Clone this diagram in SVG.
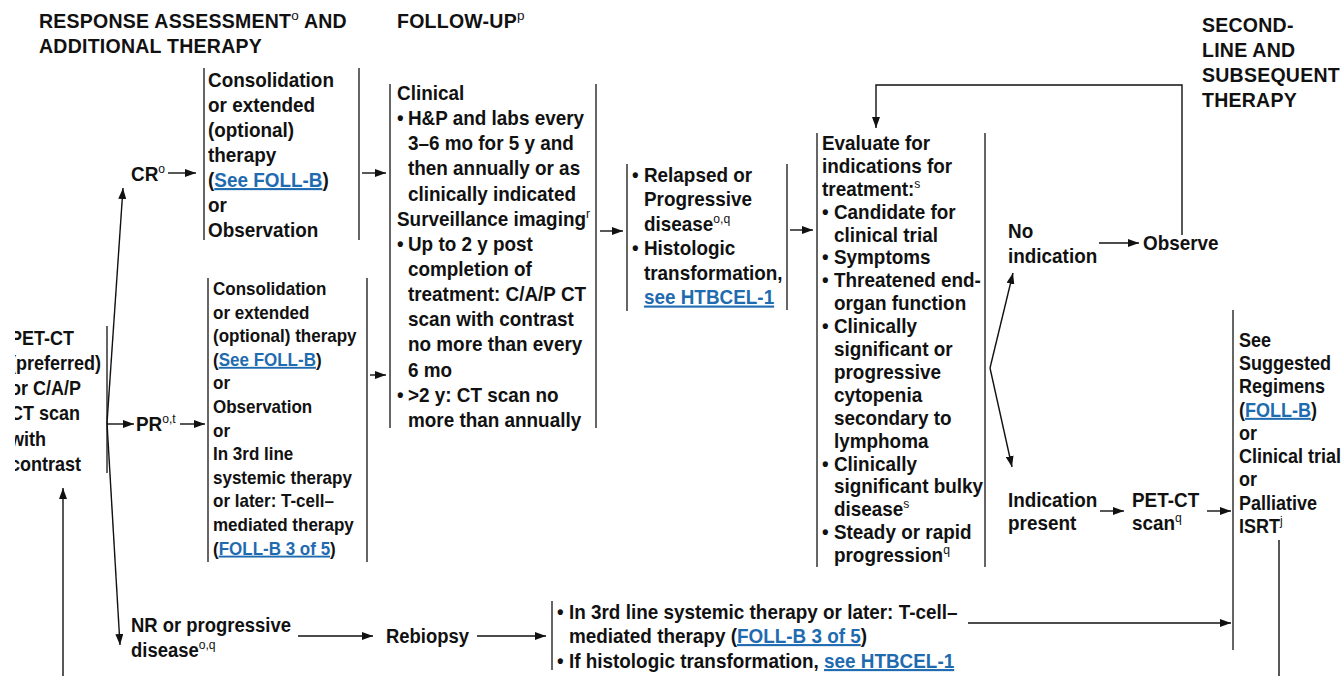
<svg xmlns="http://www.w3.org/2000/svg" width="1341" height="676" viewBox="0 0 1341 676">
<defs>
<style>
text{font-family:"Liberation Sans",Arial,sans-serif;font-weight:bold;fill:#111;}
.h{font-size:19.5px;letter-spacing:0.25px;}
.t{font-size:21px;}
.s{font-size:18.9px;}
.m{font-size:20px;}
.n{font-size:20.5px;}
.sup{font-size:13.5px;font-weight:normal;}
.lk{fill:#1f6bb0;text-decoration:underline;}
.br{stroke:#333;stroke-width:1.5;fill:none;}
.c{stroke:#111;stroke-width:1.4;fill:none;}
.ca{stroke:#111;stroke-width:1.4;fill:none;marker-end:url(#ah);}
</style>
<marker id="ah" markerUnits="userSpaceOnUse" markerWidth="11" markerHeight="8" refX="11" refY="4" orient="auto">
<path d="M0,0 L11,4 L0,8 z" fill="#111"/>
</marker>
<clipPath id="leftclip"><rect x="15" y="300" width="100" height="200"/></clipPath>
</defs>
<rect width="1341" height="676" fill="#fff"/>

<g id="headings">
<text class="h" x="39" y="28">RESPONSE ASSESSMENT<tspan class="sup" dy="-8">o</tspan><tspan dy="8"> AND</tspan></text>
<text class="h" x="39" y="53">ADDITIONAL THERAPY</text>
<text class="h" x="397" y="28">FOLLOW-UP<tspan class="sup" dy="-8">p</tspan></text>
<text class="h" x="1202" y="32">SECOND-</text>
<text class="h" x="1202" y="57">LINE AND</text>
<text class="h" x="1202" y="82">SUBSEQUENT</text>
<text class="h" x="1202" y="107">THERAPY</text>
</g>

<g id="node-petct">
<g clip-path="url(#leftclip)">
<g transform="translate(10,0) scale(0.9,1)">
<text class="m" x="0" y="345">PET-CT</text>
<text class="m" x="0" y="370">(preferred)</text>
<text class="m" x="0" y="395">or C/A/P</text>
<text class="m" x="0" y="420">CT scan</text>
<text class="m" x="0" y="446">with</text>
<text class="m" x="0" y="471">contrast</text>
</g>
</g>
<line class="br" x1="107" y1="326" x2="107" y2="473"/>
</g>

<g id="node-cr">
<g transform="translate(131,0) scale(0.9,1)"><text class="t" x="0" y="181">CR<tspan class="sup" dy="-8">o</tspan></text></g>
</g>
<g id="node-pr">
<g transform="translate(136,0) scale(0.9,1)"><text class="t" x="0" y="431">PR<tspan class="sup" dy="-8">o,t</tspan></text></g>
</g>
<g id="node-nr">
<g transform="translate(131,0) scale(0.9,1)">
<text class="n" x="0" y="632">NR or progressive</text>
<text class="n" x="0" y="657">disease<tspan class="sup" dy="-8">o,q</tspan></text>
</g>
</g>

<g id="node-cr-therapy">
<line class="br" x1="204" y1="68" x2="204" y2="240"/>
<line class="br" x1="359" y1="68" x2="359" y2="240"/>
<g transform="translate(208,0) scale(0.9,1)">
<text class="t" x="0" y="87">Consolidation</text>
<text class="t" x="0" y="112">or extended</text>
<text class="t" x="0" y="137">(optional)</text>
<text class="t" x="0" y="162">therapy</text>
<text class="t" x="0" y="187">(<tspan class="lk">See FOLL-B</tspan>)</text>
<text class="t" x="0" y="212">or</text>
<text class="t" x="0" y="237">Observation</text>
</g>
</g>

<g id="node-pr-therapy">
<line class="br" x1="208" y1="278" x2="208" y2="562"/>
<line class="br" x1="367" y1="278" x2="367" y2="562"/>
<g transform="translate(213,0) scale(0.9,1)">
<text class="s" x="0" y="295">Consolidation</text>
<text class="s" x="0" y="318.6">or extended</text>
<text class="s" x="0" y="342.2">(optional) therapy</text>
<text class="s" x="0" y="365.8">(<tspan class="lk">See FOLL-B</tspan>)</text>
<text class="s" x="0" y="389.4">or</text>
<text class="s" x="0" y="413">Observation</text>
<text class="s" x="0" y="436.6">or</text>
<text class="s" x="0" y="460.2">In 3rd line</text>
<text class="s" x="0" y="483.8">systemic therapy</text>
<text class="s" x="0" y="507.4">or later: T-cell–</text>
<text class="s" x="0" y="531">mediated therapy</text>
<text class="s" x="0" y="554.6">(<tspan class="lk">FOLL-B 3 of 5</tspan>)</text>
</g>
</g>

<g id="node-followup">
<line class="br" x1="390" y1="84" x2="390" y2="428"/>
<line class="br" x1="596" y1="84" x2="596" y2="428"/>
<g transform="translate(397,0) scale(0.9,1)">
<text class="t" x="0" y="100">Clinical</text>
<text class="t" x="0" y="125.2">•</text>
<text class="t" x="12.2" y="125.2">H&amp;P and labs every</text>
<text class="t" x="12.2" y="150.3">3–6 mo for 5 y and</text>
<text class="t" x="12.2" y="175.5">then annually or as</text>
<text class="t" x="12.2" y="200.6">clinically indicated</text>
<text class="t" x="0" y="225.8">Surveillance imaging<tspan class="sup" dy="-8">r</tspan></text>
<text class="t" x="0" y="250.9">•</text>
<text class="t" x="12.2" y="250.9">Up to 2 y post</text>
<text class="t" x="12.2" y="276.1">completion of</text>
<text class="t" x="12.2" y="301.2">treatment: C/A/P CT</text>
<text class="t" x="12.2" y="326.4">scan with contrast</text>
<text class="t" x="12.2" y="351.5">no more than every</text>
<text class="t" x="12.2" y="376.7">6 mo</text>
<text class="t" x="0" y="401.8">•</text>
<text class="t" x="12.2" y="401.8">&gt;2 y: CT scan no</text>
<text class="t" x="12.2" y="427">more than annually</text>
</g>
</g>

<g id="node-relapsed">
<line class="br" x1="627" y1="164" x2="627" y2="311"/>
<line class="br" x1="787" y1="164" x2="787" y2="310"/>
<g transform="translate(632,0) scale(0.9,1)">
<text class="t" x="0" y="182">•</text>
<text class="t" x="13.3" y="182">Relapsed or</text>
<text class="t" x="13.3" y="206.5">Progressive</text>
<text class="t" x="13.3" y="231">disease<tspan class="sup" dy="-8">o,q</tspan></text>
<text class="t" x="0" y="255.5">•</text>
<text class="t" x="13.3" y="255.5">Histologic</text>
<text class="t" x="13.3" y="280">transformation,</text>
<text class="t lk" x="13.3" y="304.5">see HTBCEL-1</text>
</g>
</g>

<g id="node-evaluate">
<line class="br" x1="817" y1="133" x2="817" y2="567"/>
<line class="br" x1="985" y1="133" x2="985" y2="567"/>
<g transform="translate(822,0) scale(0.9,1)">
<text class="t" x="0" y="150">Evaluate for</text>
<text class="t" x="0" y="172.9">indications for</text>
<text class="t" x="0" y="195.8">treatment:<tspan class="sup" dy="-8">s</tspan></text>
<text class="t" x="0" y="218.7">•</text>
<text class="t" x="13.3" y="218.7">Candidate for</text>
<text class="t" x="13.3" y="241.6">clinical trial</text>
<text class="t" x="0" y="264.5">•</text>
<text class="t" x="13.3" y="264.5">Symptoms</text>
<text class="t" x="0" y="287.4">•</text>
<text class="t" x="13.3" y="287.4">Threatened end-</text>
<text class="t" x="13.3" y="310.3">organ function</text>
<text class="t" x="0" y="333.2">•</text>
<text class="t" x="13.3" y="333.2">Clinically</text>
<text class="t" x="13.3" y="356.1">significant or</text>
<text class="t" x="13.3" y="379">progressive</text>
<text class="t" x="13.3" y="401.9">cytopenia</text>
<text class="t" x="13.3" y="424.8">secondary to</text>
<text class="t" x="13.3" y="447.7">lymphoma</text>
<text class="t" x="0" y="470.6">•</text>
<text class="t" x="13.3" y="470.6">Clinically</text>
<text class="t" x="13.3" y="493.5">significant bulky</text>
<text class="t" x="13.3" y="516.4">disease<tspan class="sup" dy="-8">s</tspan></text>
<text class="t" x="0" y="539.3">•</text>
<text class="t" x="13.3" y="539.3">Steady or rapid</text>
<text class="t" x="13.3" y="562.2">progression<tspan class="sup" dy="-8">q</tspan></text>
</g>
</g>

<g id="node-noindication">
<g transform="translate(1008,0) scale(0.9,1)">
<text class="t" x="0" y="238">No</text>
<text class="t" x="0" y="263">indication</text>
</g>
</g>
<g id="node-observe">
<g transform="translate(1143,0) scale(0.9,1)"><text class="t" x="0" y="250">Observe</text></g>
</g>
<g id="node-indication">
<g transform="translate(1008,0) scale(0.9,1)">
<text class="t" x="0" y="507">Indication</text>
<text class="t" x="0" y="530">present</text>
</g>
</g>
<g id="node-petscan">
<g transform="translate(1132,0) scale(0.9,1)">
<text class="t" x="0" y="507">PET-CT</text>
<text class="t" x="0" y="530">scan<tspan class="sup" dy="-8">q</tspan></text>
</g>
</g>

<g id="node-regimens">
<line class="br" x1="1233" y1="310" x2="1233" y2="650"/>
<g transform="translate(1239,0) scale(0.9,1)">
<text class="m" x="0" y="347">See</text>
<text class="m" x="0" y="370.3">Suggested</text>
<text class="m" x="0" y="393.5">Regimens</text>
<text class="m" x="0" y="416.8">(<tspan class="lk">FOLL-B</tspan>)</text>
<text class="m" x="0" y="440">or</text>
<text class="m" x="0" y="463.3">Clinical trial</text>
<text class="m" x="0" y="486.5">or</text>
<text class="m" x="0" y="509.8">Palliative</text>
<text class="m" x="0" y="533">ISRT<tspan class="sup" dy="-8">j</tspan></text>
</g>
</g>

<g id="node-rebiopsy">
<g transform="translate(386,0) scale(0.9,1)"><text class="n" x="0" y="643">Rebiopsy</text></g>
</g>

<g id="node-thirdline">
<line class="br" x1="552" y1="601" x2="552" y2="670"/>
<g transform="translate(557,0) scale(0.9,1)">
<text class="t" x="0" y="619">•</text>
<text class="t" x="13.3" y="619">In 3rd line systemic therapy or later: T-cell–</text>
<text class="t" x="13.3" y="643">mediated therapy (<tspan class="lk">FOLL-B 3 of 5</tspan>)</text>
<text class="t" x="0" y="668">•</text>
<text class="t" x="13.3" y="668">If histologic transformation, <tspan class="lk">see HTBCEL-1</tspan></text>
</g>
</g>

<g id="connectors">
<line class="ca" x1="107" y1="423" x2="123" y2="188"/>
<line class="ca" x1="107" y1="424" x2="134" y2="424"/>
<line class="ca" x1="107" y1="423" x2="120" y2="645"/>
<line class="ca" x1="63" y1="676" x2="63" y2="488"/>
<line class="ca" x1="168" y1="173" x2="196" y2="173"/>
<line class="ca" x1="180" y1="424" x2="205" y2="424"/>
<line class="ca" x1="298" y1="636" x2="373" y2="636"/>
<line class="ca" x1="477" y1="636" x2="546" y2="636"/>
<line class="ca" x1="362" y1="173" x2="386" y2="173"/>
<line class="ca" x1="370" y1="375" x2="386" y2="375"/>
<line class="ca" x1="600" y1="231" x2="623" y2="231"/>
<line class="ca" x1="790" y1="230" x2="813" y2="230"/>
<line class="ca" x1="990" y1="368" x2="1013" y2="273"/>
<line class="ca" x1="990" y1="368" x2="1012" y2="467"/>
<line class="ca" x1="1099" y1="243" x2="1139" y2="243"/>
<polyline class="ca" points="1182,235 1182,85 876,85 876,128"/>
<line class="ca" x1="1100" y1="511" x2="1124" y2="511"/>
<line class="ca" x1="1207" y1="511" x2="1231" y2="511"/>
<line class="ca" x1="968" y1="623" x2="1231" y2="623"/>
<line class="c" x1="1279" y1="540" x2="1279" y2="676"/>
</g>
</svg>
